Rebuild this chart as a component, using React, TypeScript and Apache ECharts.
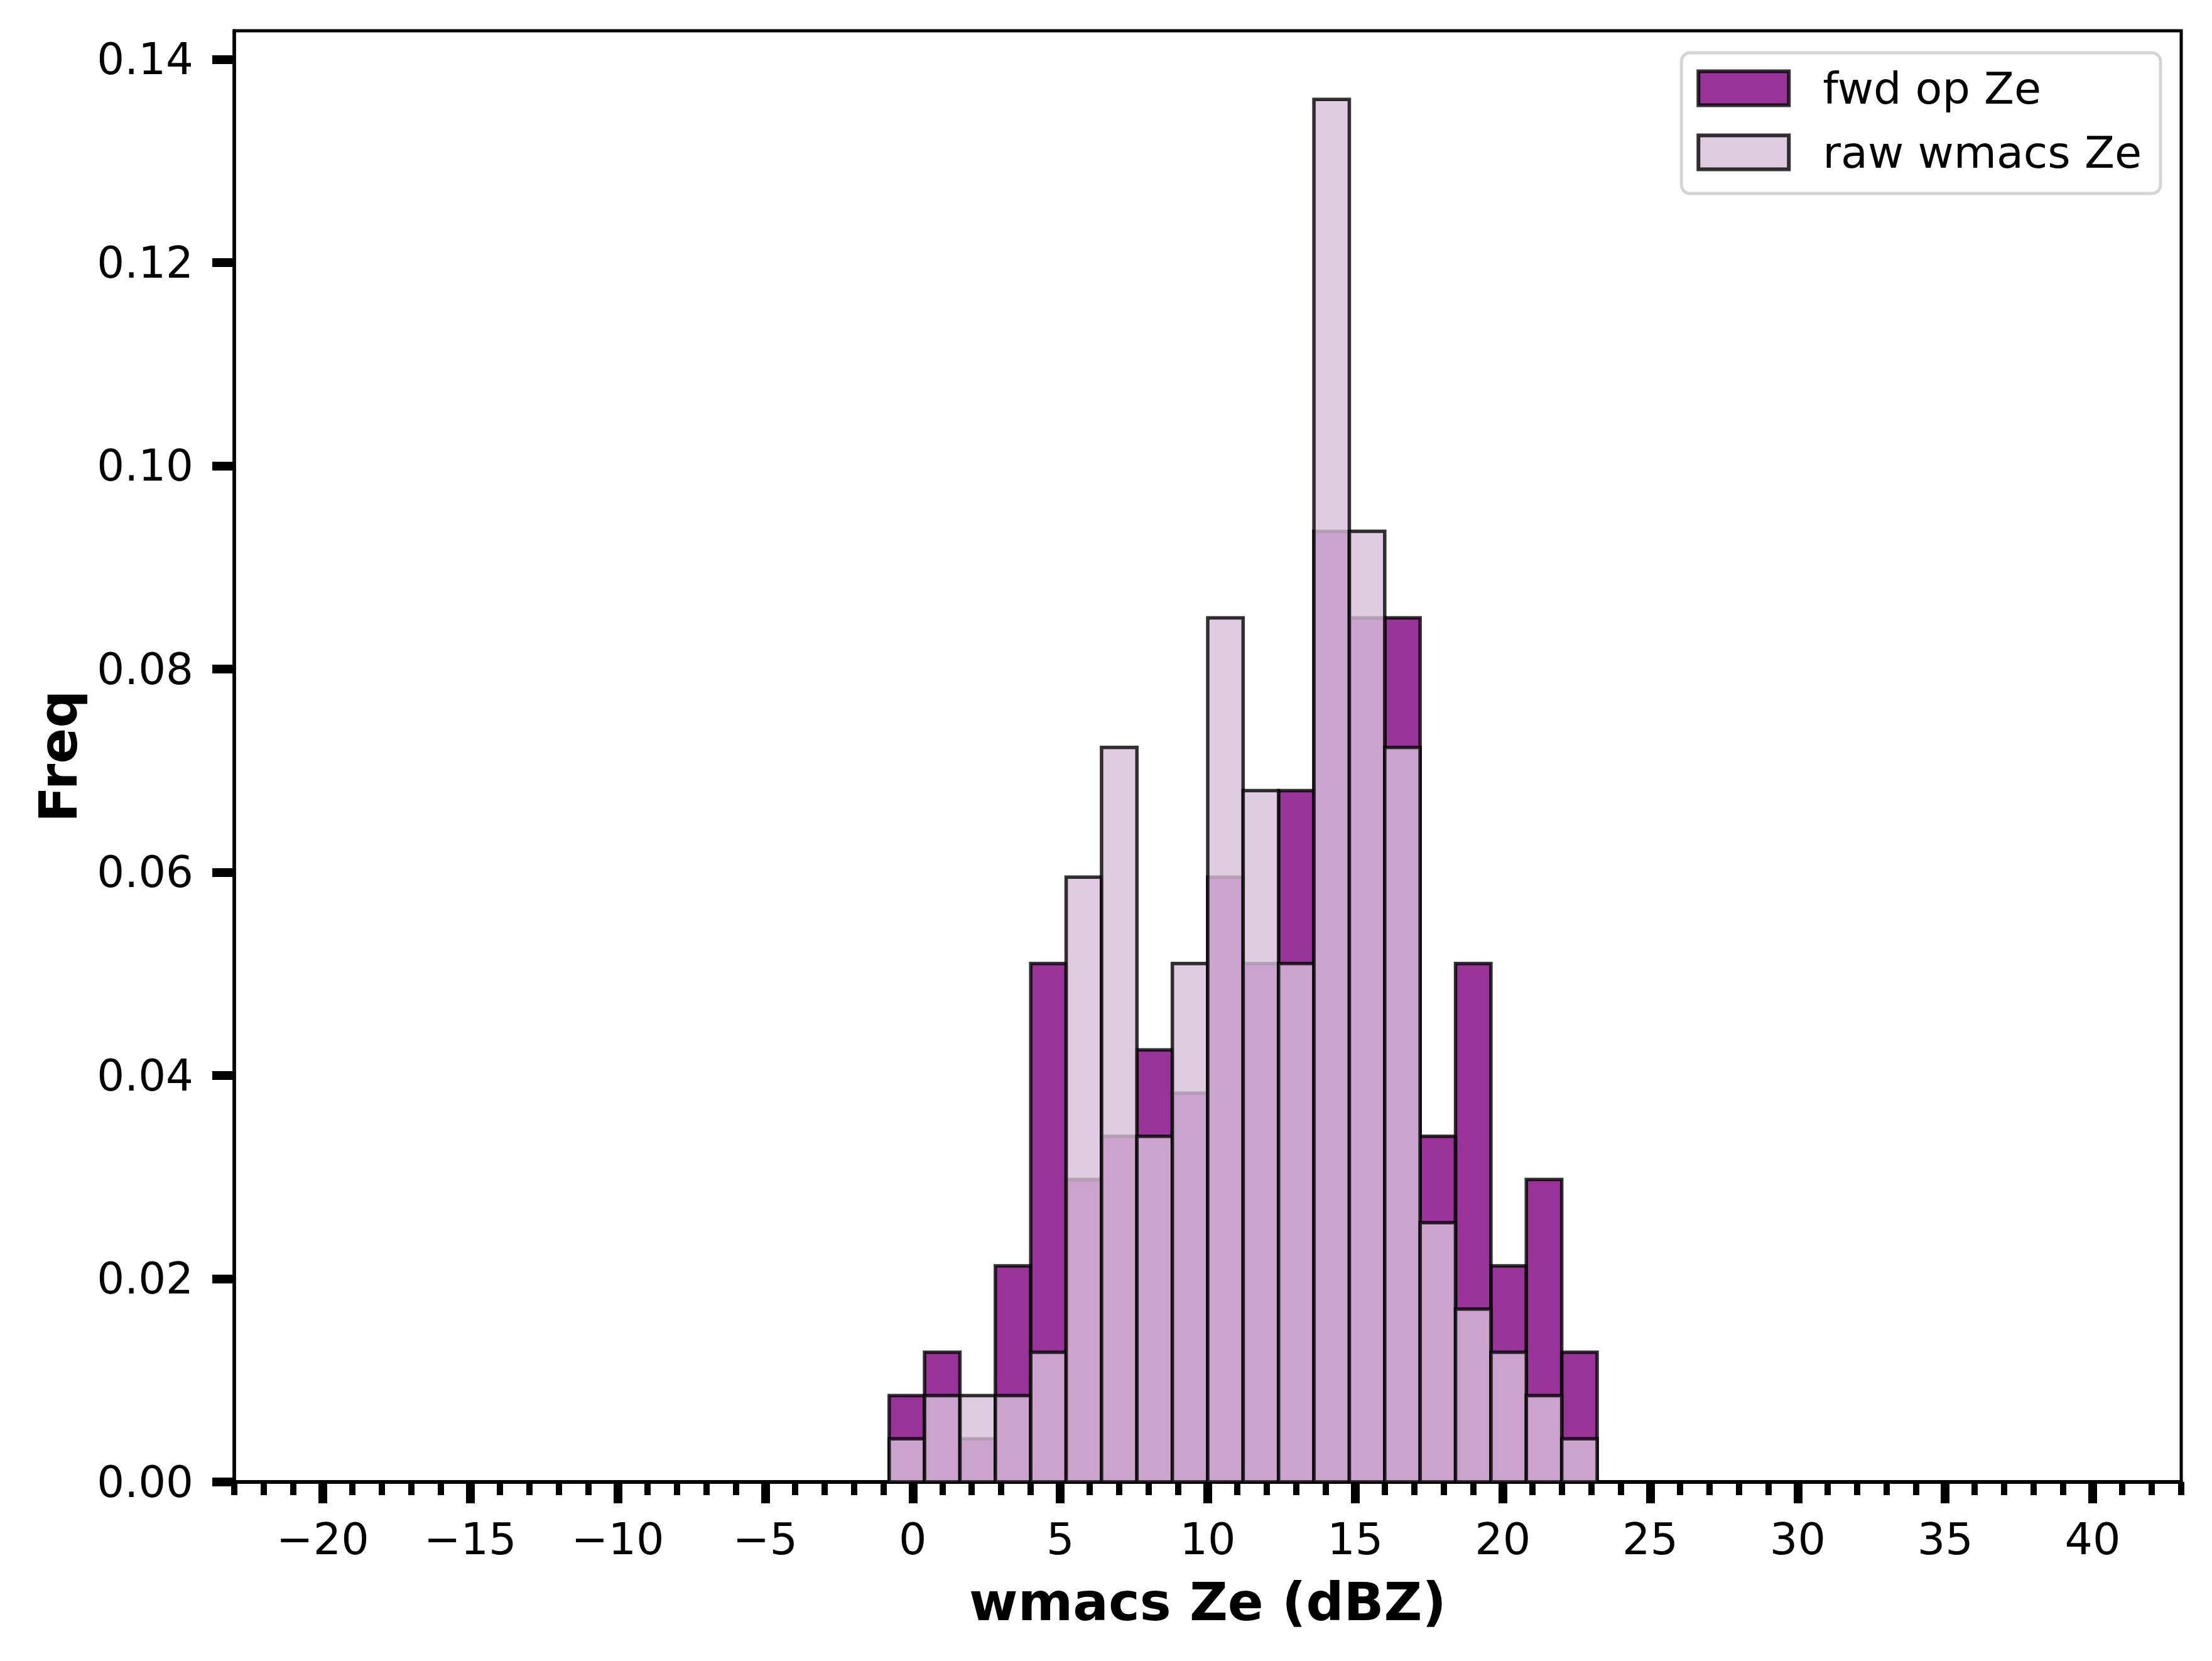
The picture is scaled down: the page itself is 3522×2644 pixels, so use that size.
import React, { useEffect, useRef } from "react";
import * as echarts from "echarts";

// Histogram bin edges (dBZ)
const binEdges = [-0.8, 0.4, 1.6, 2.8, 4.0, 5.2, 6.4, 7.6, 8.8, 10.0, 11.2, 12.4, 13.6, 14.8, 16.0, 17.2, 18.4, 19.6, 20.8, 22.0, 23.2];
// Density values
const fwdFreq = [0.0085, 0.01276, 0.00425, 0.02126, 0.05102, 0.02976, 0.03401, 0.04252, 0.03827, 0.05952, 0.05102, 0.06803, 0.09354, 0.08503, 0.08503, 0.03401, 0.05102, 0.02126, 0.02976, 0.01276];
const rawFreq = [0.00425, 0.0085, 0.0085, 0.0085, 0.01276, 0.05952, 0.07228, 0.03401, 0.05102, 0.08503, 0.06803, 0.05102, 0.13605, 0.09354, 0.07228, 0.02551, 0.01701, 0.01276, 0.0085, 0.00425];
const seriesNames = ["fwd op Ze", "raw wmacs Ze"];
const xMajorTicks = [-20, -15, -10, -5, 0, 5, 10, 15, 20, 25, 30, 35, 40];
const yTicks = [0, 0.02, 0.04, 0.06, 0.08, 0.1, 0.12, 0.14];
const xRange = [-23, 43];
const yRange = [0, 0.1428];

const FONT = "DejaVu Sans";
const FWD_FILL = "rgba(128,0,128,0.8)";
const RAW_FILL = "rgba(216,191,216,0.8)";
const EDGE = "rgba(0,0,0,0.8)";

function toBins(vals: number[]) {
  return vals.map((v, i) => [binEdges[i], binEdges[i + 1], v]);
}

function makeRender(fill: string) {
  return (params: any, api: any) => {
    const x0 = api.value(0);
    const x1 = api.value(1);
    const y = api.value(2);
    const p0 = api.coord([x0, y]);
    const p1 = api.coord([x1, 0]);
    return {
      type: "rect",
      shape: { x: p0[0], y: p0[1], width: p1[0] - p0[0], height: p1[1] - p0[1] },
      style: { fill, stroke: EDGE, lineWidth: 5.5 },
    };
  };
}

const fmtX = (v: number) => (v < 0 ? "\u2212" + Math.abs(v) : String(v));

export default function App() {
  const ref = useRef<HTMLDivElement>(null);
  useEffect(() => {
    if (!ref.current) return;
    const chart = echarts.init(ref.current, undefined, { renderer: "svg" });
    chart.setOption({
      animation: false,
      backgroundColor: "#fff",
      grid: {
        left: 373,
        top: 49,
        right: 49,
        bottom: 285,
        show: true,
        borderColor: "#000",
        borderWidth: 5,
        backgroundColor: "transparent",
      },
      legend: {
        orient: "vertical",
        right: 82,
        top: 84,
        itemWidth: 144,
        itemHeight: 54,
        itemGap: 31,
        padding: [21, 30, 30, 24],
        backgroundColor: "#fff",
        borderColor: "#d5d5d5",
        borderWidth: 5,
        borderRadius: 14,
        textStyle: { fontFamily: FONT, fontSize: 70, lineHeight: 71, color: "#000", padding: [0, 0, 0, 49] },
        data: [
          { name: seriesNames[0], icon: "rect", itemStyle: { color: FWD_FILL, borderColor: EDGE, borderWidth: 6 } },
          { name: seriesNames[1], icon: "rect", itemStyle: { color: RAW_FILL, borderColor: EDGE, borderWidth: 6 } },
        ],
      },
      xAxis: [
        {
          type: "value",
          min: xRange[0],
          max: xRange[1],
          interval: 1,
          position: "bottom",
          axisLine: { show: true, onZero: false, lineStyle: { color: "#000", width: 6 } },
          axisTick: { show: true, inside: false, length: 21, lineStyle: { color: "#000", width: 10 } },
          axisLabel: { show: false },
          splitLine: { show: false },
        },
        {
          type: "value",
          min: xRange[0],
          max: xRange[1],
          position: "bottom",
          axisLine: { show: false, onZero: false },
          axisTick: { show: true, inside: false, length: 34, customValues: xMajorTicks, lineStyle: { color: "#000", width: 14 } },
          axisLabel: {
            show: true,
            customValues: xMajorTicks,
            formatter: fmtX,
            fontFamily: FONT,
            fontSize: 70,
            lineHeight: 71,
            color: "#000",
            margin: 55,
          },
          splitLine: { show: false },
          name: "wmacs Ze (dBZ)",
          nameLocation: "middle",
          nameGap: 148,
          nameTextStyle: { fontFamily: FONT, fontSize: 84, lineHeight: 85, fontWeight: "bold", color: "#000" },
        },
      ],
      yAxis: {
        type: "value",
        min: yRange[0],
        max: yRange[1],
        axisLine: { show: true, onZero: false, lineStyle: { color: "#000", width: 5.5 } },
        axisTick: { show: true, inside: false, length: 35, customValues: yTicks, lineStyle: { color: "#000", width: 14 } },
        axisLabel: {
          show: true,
          customValues: yTicks,
          formatter: (v: number) => v.toFixed(2),
          fontFamily: FONT,
          fontSize: 69,
          lineHeight: 71,
          color: "#000",
          margin: 65,
        },
        splitLine: { show: false },
        name: "Freq",
        nameLocation: "middle",
        nameGap: 238,
        nameTextStyle: { fontFamily: FONT, fontSize: 84, lineHeight: 85, fontWeight: "bold", color: "#000" },
      },
      series: [
        {
          name: seriesNames[0],
          type: "custom",
          xAxisIndex: 0,
          yAxisIndex: 0,
          renderItem: makeRender(FWD_FILL),
          itemStyle: { color: FWD_FILL, borderColor: EDGE, borderWidth: 6 },
          encode: { x: [0, 1], y: 2 },
          data: toBins(fwdFreq),
          z: 2,
        },
        {
          name: seriesNames[1],
          type: "custom",
          xAxisIndex: 0,
          yAxisIndex: 0,
          renderItem: makeRender(RAW_FILL),
          itemStyle: { color: RAW_FILL, borderColor: EDGE, borderWidth: 6 },
          encode: { x: [0, 1], y: 2 },
          data: toBins(rawFreq),
          z: 3,
        },
      ],
    });
    return () => chart.dispose();
  }, []);
  return <div ref={ref} style={{ position: "fixed", left: 0, top: 0, width: 3522, height: 2644 }} />;
}
